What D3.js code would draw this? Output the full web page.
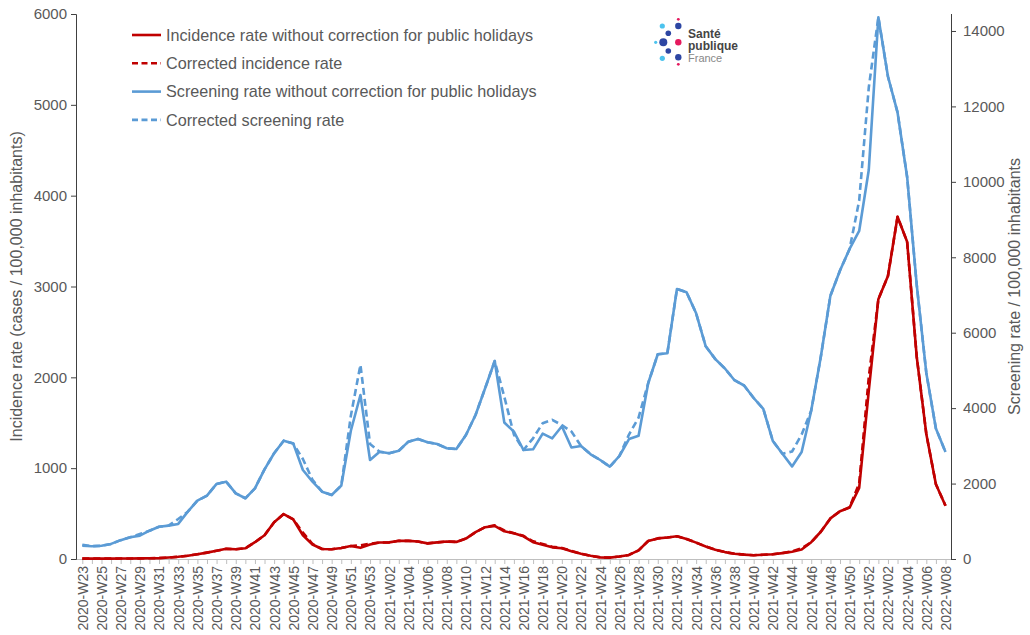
<!DOCTYPE html>
<html>
<head>
<meta charset="utf-8">
<script src="https://cdn.jsdelivr.net/npm/d3@7/dist/d3.min.js"></script>
<style>
  html, body { margin: 0; padding: 0; background: #fff; }
  svg { display: block; font-family: "Liberation Sans", Arial, sans-serif; }
</style>
</head>
<body>
<svg id="chart" width="1030" height="635"></svg>
<script>
// ---- Data ----
const weeks = [
  "2020-W23","2020-W24","2020-W25","2020-W26","2020-W27","2020-W28","2020-W29","2020-W30","2020-W31","2020-W32",
  "2020-W33","2020-W34","2020-W35","2020-W36","2020-W37","2020-W38","2020-W39","2020-W40","2020-W41","2020-W42",
  "2020-W43","2020-W44","2020-W45","2020-W46","2020-W47","2020-W48","2020-W49","2020-W50","2020-W51","2020-W52",
  "2020-W53","2021-W01","2021-W02","2021-W03","2021-W04","2021-W05","2021-W06","2021-W07","2021-W08","2021-W09",
  "2021-W10","2021-W11","2021-W12","2021-W13","2021-W14","2021-W15","2021-W16","2021-W17","2021-W18","2021-W19",
  "2021-W20","2021-W21","2021-W22","2021-W23","2021-W24","2021-W25","2021-W26","2021-W27","2021-W28","2021-W29",
  "2021-W30","2021-W31","2021-W32","2021-W33","2021-W34","2021-W35","2021-W36","2021-W37","2021-W38","2021-W39",
  "2021-W40","2021-W41","2021-W42","2021-W43","2021-W44","2021-W45","2021-W46","2021-W47","2021-W48","2021-W49",
  "2021-W50","2021-W51","2021-W52","2022-W01","2022-W02","2022-W03","2022-W04","2022-W05","2022-W06","2022-W07",
  "2022-W08"
];

const incidenceRaw = [
  4,4,4,4,5,5,7,8,10,16,
  24,36,52,70,90,112,108,118,185,262,
  405,495,435,262,160,110,107,122,143,123,
  160,182,183,200,200,192,172,183,192,188,
  225,295,350,365,305,283,250,185,158,128,
  118,85,58,35,18,15,28,45,95,198,
  227,237,250,220,180,138,102,76,58,48,
  42,46,52,65,80,105,185,300,447,525,
  566,783,1850,2860,3116,3768,3492,2226,1376,823,
  587
];

const incidenceCorr = [
  4,4,4,4,5,5,7,8,10,16,
  24,36,52,70,90,112,108,118,185,262,
  405,495,435,290,165,110,107,122,143,150,
  168,182,183,200,200,192,172,183,192,188,
  225,295,350,370,315,283,255,195,165,135,
  122,88,58,35,18,15,28,45,95,198,
  227,237,250,220,180,138,102,76,58,48,
  42,46,52,65,85,118,185,300,447,525,
  570,830,2000,2860,3116,3768,3492,2226,1376,823,
  587
];

const screeningRaw = [
  350,340,350,400,500,575,620,750,855,885,
  930,1255,1547,1680,1990,2050,1742,1610,1874,2378,
  2803,3137,3060,2360,2050,1785,1697,1944,3400,4349,
  2625,2845,2803,2872,3111,3182,3094,3050,2935,2917,
  3288,3819,4526,5250,3620,3376,2890,2908,3325,3200,
  3520,2955,2997,2776,2625,2448,2731,3180,3265,4660,
  5428,5455,7160,7072,6515,5640,5300,5050,4740,4600,
  4269,3983,3128,2790,2455,2837,3935,5362,6982,7648,
  8220,8698,10315,14362,12792,11840,10130,7266,4932,3458,
  2837
];

const screeningCorr = [
  380,340,350,400,500,575,660,750,855,885,
  1060,1255,1547,1680,1990,2050,1742,1610,1874,2378,
  2803,3137,3060,2650,2100,1785,1697,1944,3800,5150,
  3050,2845,2803,2872,3111,3182,3094,3050,2935,2917,
  3288,3819,4526,5250,4300,3300,2890,3200,3600,3690,
  3550,3380,2997,2776,2625,2448,2731,3300,3750,4660,
  5428,5455,7160,7072,6515,5640,5300,5050,4740,4600,
  4269,3983,3128,2790,2850,3300,3935,5362,6982,7648,
  8220,9500,12500,14362,12792,11840,10130,7266,4932,3458,
  2837
];

const leftTicks = [0,1000,2000,3000,4000,5000,6000];
const rightTicks = [0,2000,4000,6000,8000,10000,12000,14000];

const leftTitle = "Incidence rate (cases / 100,000 inhabitants)";
const rightTitle = "Screening rate / 100,000 inhabitants";

const legendItems = [
  {label: "Incidence rate without correction for public holidays", color: "#c00000", dash: null},
  {label: "Corrected incidence rate", color: "#c00000", dash: "7,4"},
  {label: "Screening rate without correction for public holidays", color: "#5b9bd5", dash: null},
  {label: "Corrected screening rate", color: "#5b9bd5", dash: "7,4"}
];

// ---- Layout ----
const svg = d3.select("#chart");
const plot = {left: 76, right: 951, top: 14, bottom: 559};
const textColor = "#595959";
const fmt = d3.format("d");

const x = d3.scalePoint().domain(weeks).range([82.3, 945.5]);
const yL = d3.scaleLinear().domain([0, 6000]).range([plot.bottom, plot.top]);
const yR = d3.scaleLinear().domain([0, 14450]).range([plot.bottom, plot.top]);

// x axis
const xAxis = d3.axisBottom(x).tickSize(5).tickFormat((d, i) => i % 2 === 0 ? d : "");
const gx = svg.append("g").attr("transform", `translate(0,${plot.bottom})`).call(xAxis);
gx.select(".domain").attr("stroke", "#bfbfbf").attr("d", `M${plot.left},0.5H${plot.right}`);
gx.selectAll(".tick line").attr("stroke", "#bfbfbf");
gx.selectAll(".tick text")
  .attr("fill", textColor)
  .attr("font-size", 14)
  .attr("text-anchor", "end")
  .attr("transform", "rotate(-90)")
  .attr("x", -7)
  .attr("y", 0)
  .attr("dy", "0.35em");

// left axis
const gl = svg.append("g").attr("transform", `translate(${plot.left},0)`)
  .call(d3.axisLeft(yL).tickValues(leftTicks).tickFormat(fmt).tickSize(5).tickPadding(4));
gl.select(".domain").attr("stroke", "#404040");
gl.selectAll(".tick line").attr("stroke", "#404040");
gl.selectAll(".tick text").attr("fill", textColor).attr("font-size", 15);

// right axis
const gr = svg.append("g").attr("transform", `translate(${plot.right},0)`)
  .call(d3.axisRight(yR).tickValues(rightTicks).tickFormat(fmt).tickSize(5).tickPadding(7));
gr.select(".domain").attr("stroke", "#404040").attr("d", `M0.5,${plot.bottom}V${plot.top}`);
gr.selectAll(".tick line").attr("stroke", "#404040");
gr.selectAll(".tick text").attr("fill", textColor).attr("font-size", 15);

// axis titles
svg.append("text")
  .attr("transform", `translate(22,${(plot.top + plot.bottom) / 2}) rotate(-90)`)
  .attr("text-anchor", "middle")
  .attr("fill", textColor).attr("font-size", 16)
  .text(leftTitle);
svg.append("text")
  .attr("transform", `translate(1020,${(plot.top + plot.bottom) / 2}) rotate(-90)`)
  .attr("text-anchor", "middle")
  .attr("fill", textColor).attr("font-size", 16)
  .text(rightTitle);

// lines
const lineL = d3.line().x((d, i) => x(weeks[i])).y(d => yL(d));
const lineR = d3.line().x((d, i) => x(weeks[i])).y(d => yR(d));

const series = [
  {data: incidenceRaw, gen: lineL, color: "#c00000", dash: null},
  {data: incidenceCorr, gen: lineL, color: "#c00000", dash: "7,4"},
  {data: screeningRaw, gen: lineR, color: "#5b9bd5", dash: null},
  {data: screeningCorr, gen: lineR, color: "#5b9bd5", dash: "7,4"}
];
series.forEach(s => {
  svg.append("path")
    .attr("d", s.gen(s.data))
    .attr("fill", "none")
    .attr("stroke", s.color)
    .attr("stroke-width", 2.6)
    .attr("stroke-linejoin", "round")
    .attr("stroke-dasharray", s.dash);
});

// legend
const lg = svg.append("g");
legendItems.forEach((d, i) => {
  const yy = 35 + i * 28.3;
  lg.append("line").attr("x1", 132).attr("x2", 161).attr("y1", yy).attr("y2", yy)
    .attr("stroke", d.color).attr("stroke-width", 2.6).attr("stroke-dasharray", d.dash ? "6,3.5" : null);
  lg.append("text").attr("x", 166).attr("y", yy).attr("dy", "0.35em")
    .attr("fill", textColor).attr("font-size", 16.2).text(d.label);
});

// logo (Santé publique France)
const logo = svg.append("g");
const dots = [
  {cx: 662.3, cy: 26, r: 2.6, c: "#4cc3ee"},
  {cx: 668.3, cy: 33.3, r: 2.8, c: "#2d46a3"},
  {cx: 678.3, cy: 26, r: 3.2, c: "#2d46a3"},
  {cx: 678.3, cy: 19.3, r: 1.4, c: "#e5195e"},
  {cx: 655.7, cy: 42.3, r: 1.6, c: "#4cc3ee"},
  {cx: 663.3, cy: 42.3, r: 4, c: "#2d46a3"},
  {cx: 678.3, cy: 42.3, r: 3.2, c: "#e5195e"},
  {cx: 668.3, cy: 51, r: 2.8, c: "#2d46a3"},
  {cx: 662.3, cy: 58.3, r: 2.6, c: "#4cc3ee"},
  {cx: 678.3, cy: 57.3, r: 3.2, c: "#2d46a3"},
  {cx: 678.3, cy: 64.3, r: 1.4, c: "#e5195e"}
];
logo.selectAll("circle").data(dots).enter().append("circle")
  .attr("cx", d => d.cx).attr("cy", d => d.cy).attr("r", d => d.r).attr("fill", d => d.c);
logo.append("text").attr("x", 688).attr("y", 38).attr("font-size", 12).attr("font-weight", "bold").attr("fill", "#444").text("Santé");
logo.append("text").attr("x", 688).attr("y", 50).attr("font-size", 12).attr("font-weight", "bold").attr("fill", "#444").text("publique");
logo.append("text").attr("x", 688).attr("y", 62).attr("font-size", 11).attr("fill", "#888").text("France");
</script>
</body>
</html>
